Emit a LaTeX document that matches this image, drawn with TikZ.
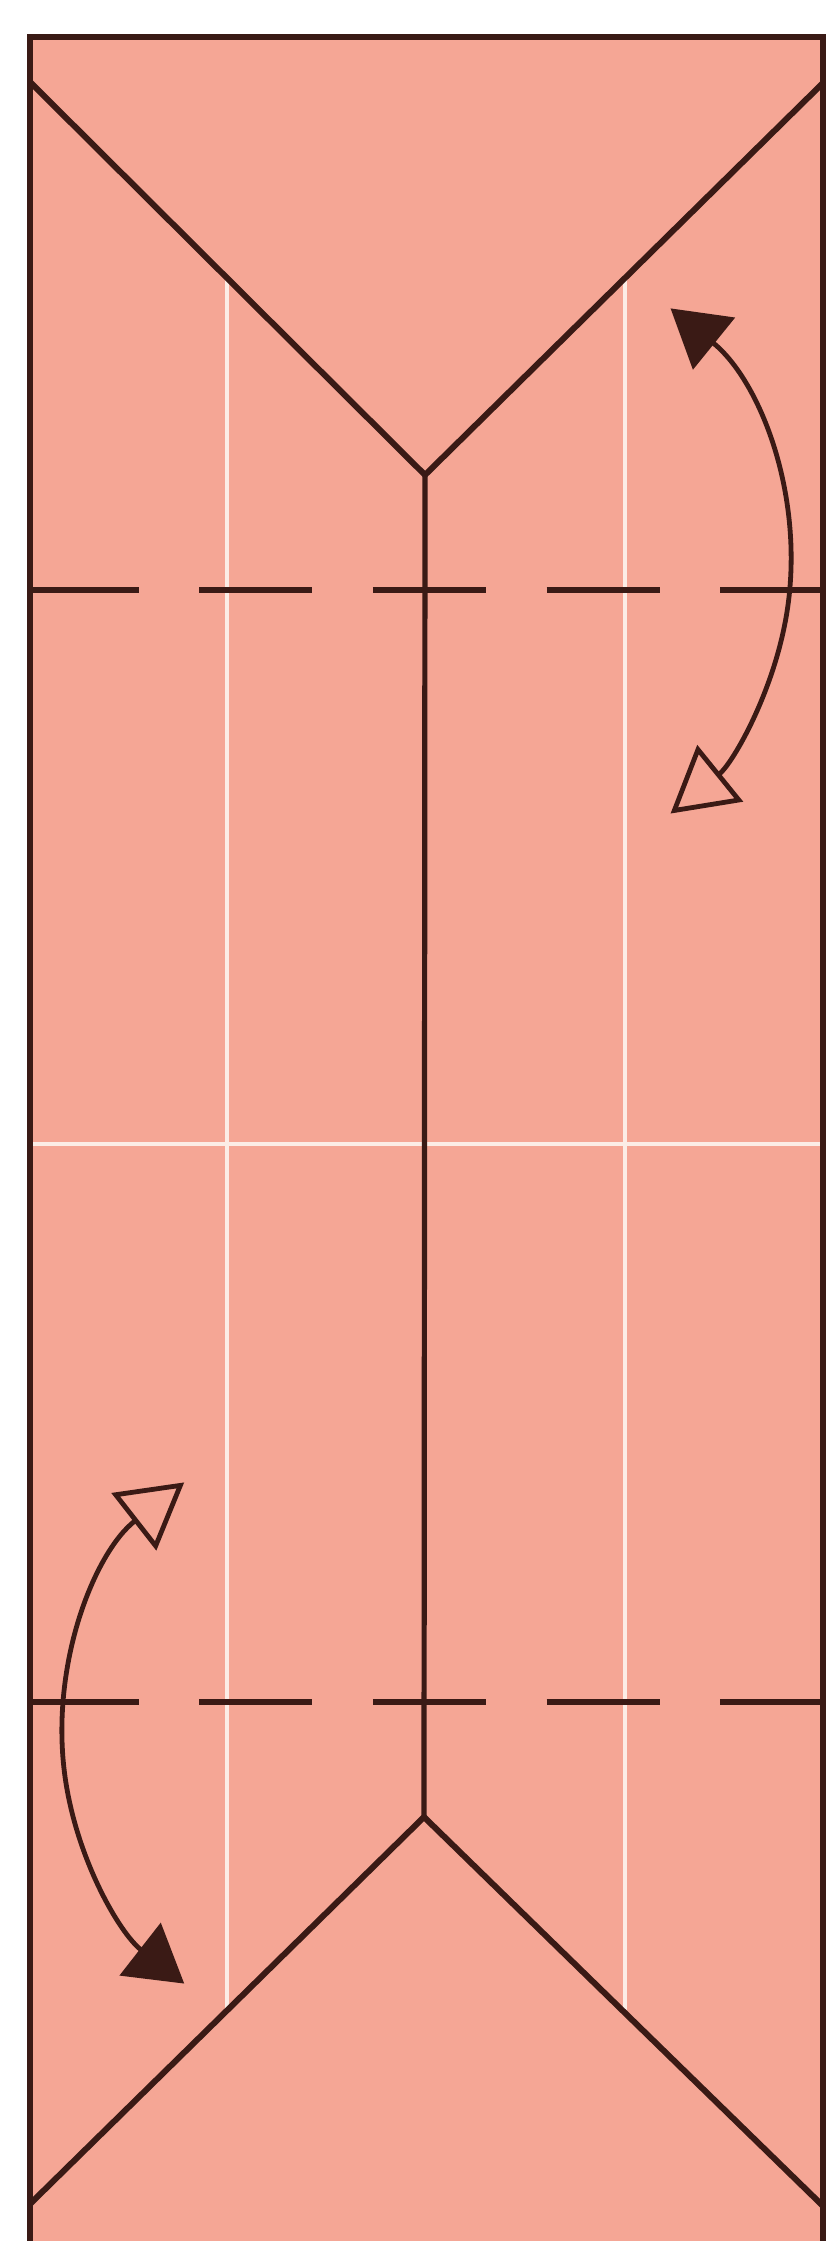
\documentclass[tikz,border=0pt]{standalone}
\usetikzlibrary{arrows.meta}
\definecolor{paper}{HTML}{F5A695}
\definecolor{ink}{HTML}{3A1A15}
\definecolor{crease}{HTML}{FCEDE6}
\tikzset{
  paperfill/.style={fill=paper, draw=none},
  rim/.style={draw=ink, line width=3.2pt, line join=miter},
  foldline/.style={draw=ink, line width=3pt, line join=miter},
  centerline/.style={draw=ink, line width=2.6pt},
  valley/.style={draw=ink, line width=3.2pt, dash pattern=on 56.5pt off 30.35pt, dash phase=2.25pt},
  whitecrease/.style={draw=crease, line width=1.8pt},
  movearrow/.style={draw=ink, line width=2.4pt},
}
\begin{document}
\begin{tikzpicture}[x=0.5pt,y=0.5pt]
\useasboundingbox (0,0) rectangle (827,2241);
% paper
\path[paperfill] (30,0) rectangle (823,2204);
% white creases
\draw[whitecrease] (227,1963) -- (227,231);
\draw[whitecrease] (625,1963) -- (625,228);
\draw[whitecrease] (30,1097) -- (823,1097);
% valley folds
\draw[valley] (30,1651) -- (823,1651);
\draw[valley] (30,539) -- (823,539);
% centre line
\draw[centerline] (425,1766) -- (424,424);
% folded flaps
\draw[foldline] (30,2159) -- (425,1766) -- (823,2158);
\draw[foldline] (30,37) -- (424,424) -- (823,35);
% paper edges
\draw[rim] (30,0) -- (30,2204) -- (823,2204) -- (823,0);
% fold-and-unfold arrows
\draw[movearrow, {Triangle[length=28pt,width=33pt]}-{Triangle[open,length=32pt,width=36pt]}]
  (466,1680) ++(51:325) arc[start angle=51, end angle=-51, radius=325];
\draw[movearrow, {Triangle[open,length=32pt,width=36pt]}-{Triangle[length=28pt,width=33pt]}]
  (380,508) ++(128:318) arc[start angle=128, end angle=232, radius=318];
\end{tikzpicture}
\end{document}
